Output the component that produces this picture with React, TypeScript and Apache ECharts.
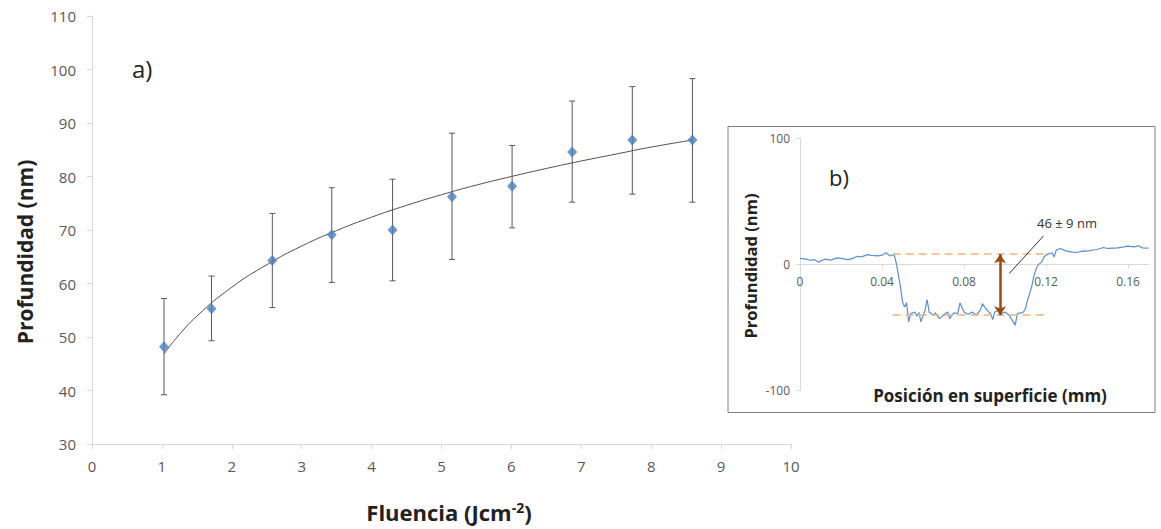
import React, { useEffect, useRef } from "react";
import * as echarts from "echarts";

// Main chart (a): depth vs fluence
const fluence = [1.03, 1.71, 2.58, 3.43, 4.3, 5.15, 6.01, 6.87, 7.73, 8.59];
const depth = [48.2, 55.3, 64.3, 69.1, 70.0, 76.2, 78.2, 84.6, 86.8, 86.8];
const depthLow = [39.2, 49.3, 55.5, 60.2, 60.5, 64.5, 70.4, 75.2, 76.7, 75.2];
const depthHigh = [57.2, 61.4, 73.1, 77.9, 79.5, 88.1, 85.8, 94.1, 96.8, 98.3];
// Trend line
const trendX = [1.03, 1.2, 1.5, 2, 2.5, 3, 3.5, 4, 4.5, 5, 5.5, 6, 6.5, 7, 7.5, 8, 8.59];
const trendY = [46.8, 49.7, 53.9, 59.3, 63.5, 67.0, 69.9, 72.4, 74.6, 76.6, 78.4, 80.0, 81.5, 82.9, 84.2, 85.5, 86.8];

// Inset (b): surface profile
const profX = [0, 0.003, 0.005, 0.007, 0.009, 0.012, 0.015, 0.018, 0.02, 0.023, 0.025, 0.028, 0.03, 0.033, 0.035, 0.038, 0.04, 0.042, 0.044, 0.045, 0.046, 0.047, 0.049, 0.05, 0.051, 0.052, 0.053, 0.054, 0.056, 0.057, 0.058, 0.059, 0.061, 0.062, 0.063, 0.065, 0.066, 0.068, 0.07, 0.072, 0.073, 0.075, 0.077, 0.078, 0.08, 0.082, 0.084, 0.086, 0.088, 0.089, 0.09, 0.092, 0.093, 0.094, 0.095, 0.097, 0.098, 0.1, 0.102, 0.103, 0.105, 0.106, 0.108, 0.109, 0.11, 0.111, 0.113, 0.114, 0.115, 0.116, 0.118, 0.119, 0.12, 0.121, 0.122, 0.123, 0.124, 0.125, 0.127, 0.13, 0.133, 0.135, 0.138, 0.14, 0.143, 0.145, 0.148, 0.15, 0.153, 0.155, 0.158, 0.16, 0.163, 0.165, 0.167, 0.17];
const profY = [4.8, 4.2, 3.4, 3.8, 1.9, 4.2, 3.5, 5.2, 4.8, 3.8, 4.5, 6.5, 6.0, 7.8, 7.2, 6.8, 7.4, 9.3, 6.8, 7.7, 7.5, 0.8, -17.7, -29.6, -33.6, -30.4, -45.5, -38.9, -37.6, -41, -38, -45.5, -36.2, -27.8, -37.6, -40.2, -38.4, -42.9, -40.2, -37.6, -42.9, -38.4, -38.9, -30.4, -37.6, -39.4, -37.6, -40.2, -36.2, -31, -33.6, -37.6, -38.9, -43.7, -37.6, -36.2, -38.9, -37.6, -40.2, -42.9, -48, -38.9, -38.4, -37.6, -34.9, -28.3, -17.7, -9.8, -4.5, -0.5, 2.1, 6, 7.4, 8.2, 8.7, 9.3, 6, 11.4, 12.7, 10.6, 9.8, 9.5, 10.8, 10.6, 11.5, 11.9, 13.5, 12.7, 13.0, 13.2, 14.0, 14.6, 14.0, 14.8, 13.2, 13.0];
// Annotation levels
const upperLevel = 8.2;
const lowerLevel = -40.2;
const levelStart = 0.0452;
const levelEnd = 0.12;
const arrowX = 0.0976;
const leaderStart = [0.1021, -7.1];
const leaderEnd = [0.1188, 22.7];
const depthLabel = "46 ± 9 nm";

const FONT = "'Open Sans', 'Noto Sans', sans-serif";

export default function App() {
  const ref = useRef<HTMLDivElement>(null);
  useEffect(() => {
    const chart = echarts.init(ref.current!, null, { renderer: "svg" });
    const mainPts = fluence.map((x, i) => [x, depth[i]]);
    const errPts = fluence.map((x, i) => [x, depth[i], depthLow[i], depthHigh[i]]);
    const trendPts = trendX.map((x, i) => [x, trendY[i]]);
    const profPts = profX.map((x, i) => [x, profY[i]]);
    const axisLineStyle = { color: "#d9d9d9", width: 1 };
    const insetTop = 138.3;
    const insetBottom = 138.3;
    const insetHeight = 529 - insetTop - insetBottom;
    chart.setOption({
      animation: false,
      backgroundColor: "#ffffff",
      grid: [
        { left: 92, right: 370, top: 16, bottom: 85 },
        { left: 800, right: 12.5, top: insetTop, bottom: insetBottom },
      ],
      xAxis: [
        {
          gridIndex: 0, type: "value", min: 0, max: 10, interval: 1,
          axisLine: { lineStyle: axisLineStyle, onZero: false },
          axisTick: { show: true, length: 5, lineStyle: axisLineStyle },
          splitLine: { show: false },
          axisLabel: { color: "#595959", fontSize: 15, fontFamily: FONT, margin: 14 },
        },
        {
          gridIndex: 1, type: "value", min: 0, max: 0.17, interval: 0.04,
          position: "bottom",
          offset: -insetHeight / 2,
          axisLine: { lineStyle: axisLineStyle, onZero: false },
          axisTick: { show: true, length: 4, lineStyle: axisLineStyle },
          splitLine: { show: false },
          axisLabel: { color: "#595959", fontSize: 12, fontFamily: FONT, margin: 11, showMaxLabel: false },
        },
      ],
      yAxis: [
        {
          gridIndex: 0, type: "value", min: 30, max: 110, interval: 10,
          axisLine: { show: true, lineStyle: axisLineStyle },
          axisTick: { show: true, length: 5, lineStyle: axisLineStyle },
          splitLine: { show: false },
          axisLabel: { color: "#595959", fontSize: 15, fontFamily: FONT, margin: 16 },
        },
        {
          gridIndex: 1, type: "value", min: -100, max: 100, interval: 100,
          axisLine: { show: true, lineStyle: axisLineStyle },
          axisTick: { show: true, length: 4, lineStyle: axisLineStyle },
          splitLine: { show: false },
          axisLabel: { color: "#595959", fontSize: 12, fontFamily: FONT, margin: 10 },
        },
      ],
      series: [
        {
          type: "custom",
          xAxisIndex: 0, yAxisIndex: 0,
          data: errPts,
          encode: { x: 0, y: 1 },
          z: 2,
          silent: true,
          renderItem: (params: any, api: any) => {
            const x = api.value(0);
            const lo = api.coord([x, api.value(2)]);
            const hi = api.coord([x, api.value(3)]);
            const st = { stroke: "#595959", lineWidth: 1 };
            return {
              type: "group",
              children: [
                { type: "line", shape: { x1: lo[0], y1: lo[1], x2: hi[0], y2: hi[1] }, style: st },
                { type: "line", shape: { x1: lo[0] - 3, y1: lo[1], x2: lo[0] + 3, y2: lo[1] }, style: st },
                { type: "line", shape: { x1: hi[0] - 3, y1: hi[1], x2: hi[0] + 3, y2: hi[1] }, style: st },
              ],
            };
          },
        },
        {
          type: "line",
          xAxisIndex: 0, yAxisIndex: 0,
          data: trendPts,
          smooth: true,
          showSymbol: false,
          silent: true,
          z: 3,
          lineStyle: { color: "#505050", width: 1 },
        },
        {
          type: "scatter",
          xAxisIndex: 0, yAxisIndex: 0,
          data: mainPts,
          symbol: "diamond",
          symbolSize: [10, 11],
          z: 4,
          itemStyle: { color: "#4a7ebb" },
        },
        {
          type: "line",
          xAxisIndex: 1, yAxisIndex: 1,
          data: profPts,
          showSymbol: false,
          silent: true,
          z: 3,
          lineStyle: { color: "#5b8fd3", width: 1.2 },
          markLine: {
            silent: true,
            animation: false,
            label: { show: false },
            symbol: ["none", "none"],
            data: [
              [
                { coord: [levelStart, upperLevel], lineStyle: { color: "#f4b183", type: [8, 5], width: 1.5 } },
                { coord: [levelEnd, upperLevel] },
              ],
              [
                { coord: [levelStart, lowerLevel], lineStyle: { color: "#f4b183", type: [8, 5], width: 1.5 } },
                { coord: [levelEnd, lowerLevel] },
              ],
              [
                { coord: [arrowX, upperLevel], symbol: "arrow", symbolSize: [9, 9], lineStyle: { color: "#9a4a10", type: "solid", width: 2.5 } },
                { coord: [arrowX, lowerLevel], symbol: "arrow", symbolSize: [9, 9] },
              ],
              [
                { coord: leaderStart, lineStyle: { color: "#333333", type: "solid", width: 1 } },
                { coord: leaderEnd },
              ],
            ],
          },
        },
      ],
      graphic: [
        {
          type: "rect",
          shape: { x: 728, y: 126.5, width: 427, height: 286 },
          style: { fill: "none", stroke: "#808080", lineWidth: 1 },
          silent: true,
        },
        {
          type: "text", x: 25, y: 252, rotation: Math.PI / 2,
          style: { text: "Profundidad (nm)", font: `bold 21px ${FONT}`, fill: "#222222", textAlign: "center", textVerticalAlign: "middle" },
        },
        {
          type: "text", x: 449, y: 512,
          style: {
            text: "{a|Fluencia (Jcm}{s|-2}{a|)}",
            textAlign: "center", textVerticalAlign: "middle",
            rich: {
              a: { font: `bold 22px ${FONT}`, fill: "#222222" },
              s: { font: `bold 14px ${FONT}`, fill: "#222222", verticalAlign: "top", padding: [0, 0, 10, 0] },
            },
          },
        },
        {
          type: "text", x: 132, y: 68,
          style: { text: "a)", font: `24px ${FONT}`, fill: "#222222", textVerticalAlign: "middle" },
        },
        {
          type: "text", x: 829, y: 177,
          style: { text: "b)", font: `22px ${FONT}`, fill: "#222222", textVerticalAlign: "middle" },
        },
        {
          type: "text", x: 750, y: 266, rotation: Math.PI / 2,
          style: { text: "Profundidad (nm)", font: `bold 16.5px ${FONT}`, fill: "#222222", textAlign: "center", textVerticalAlign: "middle" },
        },
        {
          type: "text", x: 990, y: 395,
          style: { text: "Posición en superficie (mm)", font: `bold 17px ${FONT}`, fill: "#222222", textAlign: "center", textVerticalAlign: "middle" },
        },
        {
          type: "text", x: 1067, y: 223,
          style: { text: depthLabel, font: `13px ${FONT}`, fill: "#333333", textAlign: "center", textVerticalAlign: "middle" },
        },
      ],
    });
    return () => chart.dispose();
  }, []);
  return <div ref={ref} style={{ position: "fixed", left: 0, top: 0, width: 1161, height: 529 }} />;
}
